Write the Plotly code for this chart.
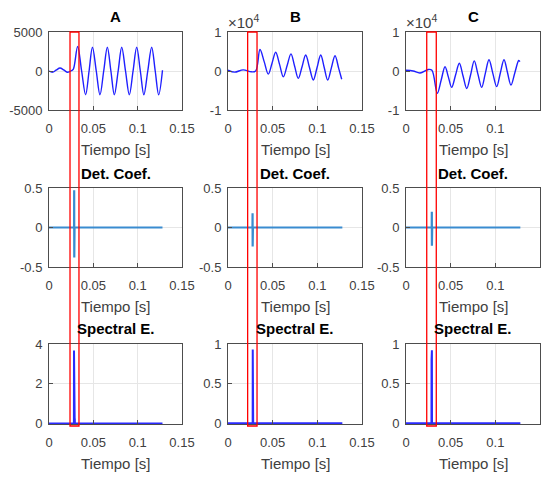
import plotly.graph_objects as go

W, H = 552, 477

# ---------------- data ----------------
panel_titles = ["A", "B", "C"]
row_titles = ["Det. Coef.", "Spectral E."]
x_label = "Tiempo [s]"
x_ticks = [0, 0.05, 0.1, 0.15]
x_tick_text = ["0", "0.05", "0.1", "0.15"]

# Row 1 : signals
tA = [0, 0.004, 0.008, 0.0124, 0.017, 0.021, 0.0255, 0.0275, 0.0323, 0.0368, 0.0413,
      0.0452, 0.049, 0.0533, 0.0575, 0.0617, 0.0658, 0.0698, 0.0737, 0.078, 0.082,
      0.0863, 0.0906, 0.0948, 0.0989, 0.103, 0.107, 0.1114, 0.1158, 0.1198, 0.1237, 0.128]
vA = [0, -150, 100, 380, 100, -160, 60, 250, 3150, 0, -3050,
      0, 3050, 0, -3050, 0, 3050, 0, -3050, 0, 3050,
      0, -3050, 0, 3050, 0, -3050, 0, 3050, 0, -3050, 100]

tB = [0, 0.0075, 0.017, 0.026, 0.031, 0.0358, 0.0405, 0.0451, 0.0493, 0.0534, 0.0577,
      0.0619, 0.0662, 0.0705, 0.0746, 0.0787, 0.0829, 0.087, 0.0912, 0.0955, 0.0997,
      0.1038, 0.1077, 0.1116, 0.1157, 0.1198, 0.124, 0.1273]
vB = [200, -300, 300, -200, 0, 5500, 2400, -800, 2000, 4800, 1700,
      -1500, 1400, 4400, 1200, -1900, 1100, 4100, 900, -2300, 900,
      4100, 900, -2300, 800, 3900, 600, -2100]

tC = [0, 0.008, 0.0157, 0.025, 0.029, 0.035, 0.0394, 0.0437, 0.0474, 0.0511, 0.0554,
      0.0597, 0.0638, 0.068, 0.0722, 0.0764, 0.0805, 0.0847, 0.0888, 0.0929, 0.0972,
      0.1015, 0.1056, 0.1097, 0.1136, 0.1175, 0.122, 0.1262, 0.1275]
vC = [200, 0, -500, 400, 200, -5700, -2300, 1100, -1500, -4200, -1100,
      2000, -1200, -4500, -1100, 2600, -800, -4200, -600, 2900, -600,
      -4000, -500, 2900, -400, -3600, -300, 2700, 2400]

# Row 2 : detail coefficients
tdA = [0, 0.0283, 0.0284, 0.0285, 0.0286, 0.0287, 0.0288, 0.128]
vdA = [0, 0, 0.47, -0.38, 0.1, -0.1, 0, 0]
tdB = [0, 0.0274, 0.0275, 0.0276, 0.0277, 0.0278, 0.0279, 0.128]
vdB = [0, 0, 0.18, -0.24, 0.06, -0.06, 0, 0]
tdC = [0, 0.0288, 0.0289, 0.0290, 0.0291, 0.0292, 0.0293, 0.128]
vdC = [0, 0, 0.2, -0.23, 0.06, -0.06, 0, 0]

# Row 3 : spectral energy
tsA = [0, 0.0281, 0.0282, 0.0283, 0.0290, 0.0291, 0.0292, 0.128]
vsA = [0, 0, 3.67, 0, 0, 0.25, 0, 0]
tsB = [0, 0.0276, 0.0277, 0.0278, 0.0280, 0.0281, 0.0282, 0.128]
vsB = [0, 0, 0.93, 0, 0, 0.63, 0, 0]
tsC = [0, 0.0285, 0.0286, 0.0287, 0.0289, 0.0290, 0.0291, 0.128]
vsC = [0, 0, 0.8, 0, 0, 0.92, 0, 0]

# event windows (red boxes)
win_A = [0.0237, 0.0338]
win_B = [0.0220, 0.0325]
win_C = [0.0232, 0.0339]

# ---------------- layout helpers ----------------
cols_px = [(49, 182), (228, 362), (406, 540)]
rows_px = [(32, 110), (188, 267), (344, 424)]

def dx(a, b):
    return [a / W, b / W]

def dy(top, bottom):
    return [1 - bottom / H, 1 - top / H]

FONT = "Liberation Sans, Arial, sans-serif"
AX = "#4d4d4d"
GRID = "#e6e6e6"
TXT = "#404040"

fig = go.Figure()

series = [
    [(tA, vA), (tB, vB), (tC, vC)],
    [(tdA, vdA), (tdB, vdB), (tdC, vdC)],
    [(tsA, vsA), (tsB, vsB), (tsC, vsC)],
]
line_styles = [
    dict(color="#1f1fff", width=1.4, shape="spline", smoothing=1.0),
    dict(color="#3a8cd0", width=2.2),
    dict(color="#2a2aff", width=2.0),
]

y_cfg = [
    [dict(range=[-5000, 5000], tickvals=[-5000, 0, 5000], ticktext=["-5000", "0", "5000"]),
     dict(range=[-10000, 10000], tickvals=[-10000, 0, 10000], ticktext=["-1", "0", "1"]),
     dict(range=[-10000, 10000], tickvals=[-10000, 0, 10000], ticktext=["-1", "0", "1"])],
    [dict(range=[-0.5, 0.5], tickvals=[-0.5, 0, 0.5], ticktext=["-0.5", "0", "0.5"])] * 3,
    [dict(range=[-0.03, 4], tickvals=[0, 2, 4], ticktext=["0", "2", "4"]),
     dict(range=[-0.008, 1], tickvals=[0, 0.5, 1], ticktext=["0", "0.5", "1"]),
     dict(range=[-0.008, 1], tickvals=[0, 0.5, 1], ticktext=["0", "0.5", "1"])],
]

layout = dict(
    width=W, height=H, margin=dict(l=0, r=0, t=0, b=0, autoexpand=False),
    autosize=False,
    paper_bgcolor="white", plot_bgcolor="white", showlegend=False,
    font=dict(family=FONT, color=TXT),
)

annotations = []
shapes = []

for r in range(3):
    for c in range(3):
        i = r * 3 + c + 1
        sfx = "" if i == 1 else str(i)
        t, v = series[r][c]
        fig.add_trace(go.Scatter(x=t, y=v, mode="lines", line=line_styles[r],
                                 xaxis="x" + sfx, yaxis="y" + sfx, hoverinfo="skip"))
        common = dict(showline=True, mirror=True, linecolor=AX, linewidth=1,
                      ticks="inside", ticklen=4, tickcolor=AX, showgrid=True,
                      gridcolor=GRID, gridwidth=1, zeroline=False, automargin=False,
                      tickfont=dict(family=FONT, size=13, color=TXT))
        layout["xaxis" + sfx] = dict(common, domain=dx(*cols_px[c]), anchor="y" + sfx,
                                     range=[0, 0.15], tickvals=x_ticks, ticktext=x_tick_text,
                                     ticklabelstandoff=6)
        layout["yaxis" + sfx] = dict(common, domain=dy(*rows_px[r]), anchor="x" + sfx,
                                     ticklabelstandoff=3, **y_cfg[r][c])
        cx = (cols_px[c][0] + cols_px[c][1]) / 2 / W
        # x label
        lab_y = [149, 306, 463][r]
        annotations.append(dict(text=x_label, x=cx, y=1 - lab_y / H, xref="paper", yref="paper",
                                showarrow=False, xanchor="center", yanchor="middle",
                                font=dict(family=FONT, size=15, color=TXT)))
        # titles
        if r == 0:
            ttl = panel_titles[c]
            ty = 17
        else:
            ttl = row_titles[r - 1]
            ty = [0, 174, 328][r]
        annotations.append(dict(text="<b>" + ttl + "</b>", x=cx, y=1 - ty / H, xref="paper",
                                yref="paper", showarrow=False, xanchor="center", yanchor="middle",
                                font=dict(family=FONT, size=15, color="black")))

# exponent labels
for c in (1, 2):
    annotations.append(dict(text="×10<sup>4</sup>", x=cols_px[c][0] / W, y=1 - 32 / H,
                            xref="paper", yref="paper", showarrow=False, xanchor="left",
                            yanchor="bottom", yshift=-1, xshift=-2,
                            font=dict(family=FONT, size=15, color=TXT)))

# red event windows, spanning all three rows
for c, win in enumerate([win_A, win_B, win_C]):
    sfx = "" if c == 0 else str(c + 1)
    shapes.append(dict(type="rect", xref="x" + sfx, yref="paper", x0=win[0], x1=win[1],
                       y0=1 - 426 / H, y1=1 - 32 / H, line=dict(color="red", width=1.3),
                       fillcolor="rgba(0,0,0,0)", layer="above"))

layout["annotations"] = annotations
layout["shapes"] = shapes
fig.update_layout(**layout)

fig.write_html("out.html", config={"displayModeBar": False, "staticPlot": True},
               post_script="document.body.style.margin='0px';document.body.style.overflow='hidden';")
